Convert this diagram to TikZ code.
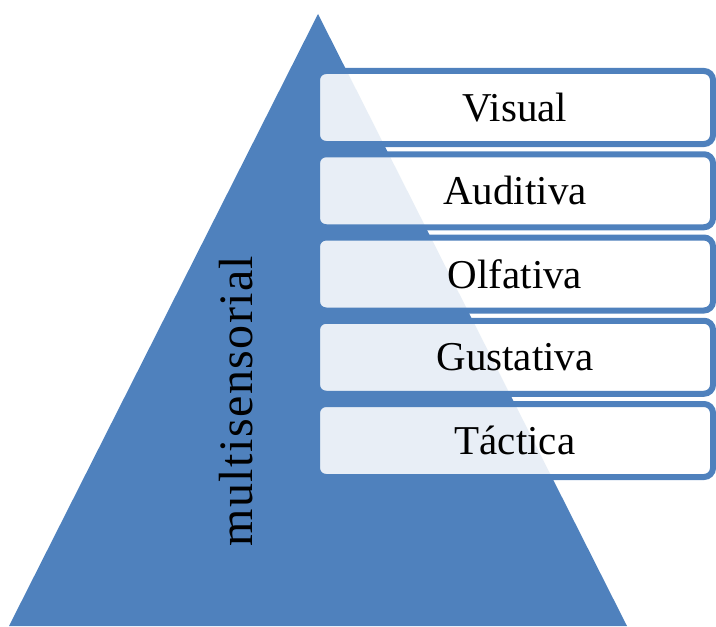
\documentclass[tikz,border=0pt]{standalone}
\usepackage{fontspec}
\setmainfont{Liberation Serif}
\usepackage{xcolor}
\definecolor{pyrblue}{HTML}{4F81BD}

\begin{document}
\begin{tikzpicture}[x=0.5pt, y=-0.5pt,
		sense/.style={rectangle, rounded corners=4.5pt, draw=pyrblue, line width=3pt,
			fill=white, fill opacity=0.87, text opacity=1, minimum width=198pt,
			minimum height=36.5pt, font=\fontsize{20.5}{24}\selectfont},
		side/.style={rotate=90, anchor=base, font=\fontsize{24}{28}\selectfont\addfontfeature{LetterSpace=3}}]
		\useasboundingbox (0, 0) rectangle (716, 626);
		\clip (0, 0) rectangle (716, 626);
		\coordinate (top) at (318, 14);
		\coordinate (bl) at (9, 626);
		\coordinate (br) at (627, 626);
		\fill[pyrblue] (top) -- (br) -- (bl) -- cycle;
		\node[sense] (visual) at (515, 107.5) {Visual};
		\node[sense] (auditiva) at (515, 190.75) {Auditiva};
		\node[sense] (olfativa) at (515, 274) {Olfativa};
		\node[sense] (gustativa) at (515, 357.25) {Gustativa};
		\node[sense] (tactica) at (515, 440.5) {Táctica};
		\node[side] (multi) at (252, 401) {multisensorial};
	\end{tikzpicture}
\end{document}
